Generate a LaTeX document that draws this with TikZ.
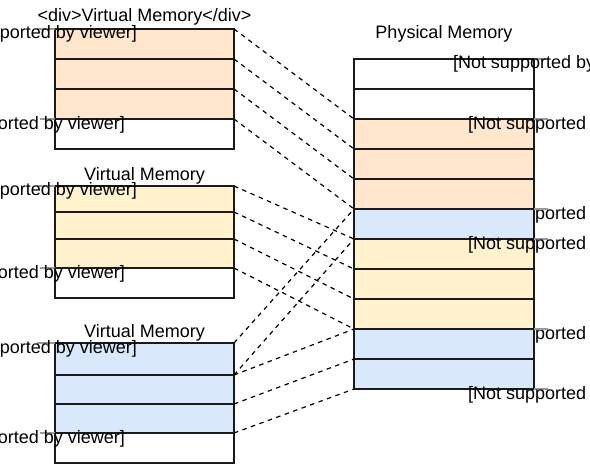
\documentclass[tikz,border=0pt]{standalone}
\usepackage{fontspec}
\setmainfont{Liberation Sans}
\definecolor{orf}{HTML}{FFE6CC}
\definecolor{yef}{HTML}{FFF2CC}
\definecolor{blf}{HTML}{DAE8FC}
\definecolor{edge}{HTML}{1A1A1A}
\definecolor{tick}{HTML}{999999}
\begin{document}
\begin{tikzpicture}[x=1pt,y=-1pt,
  cell/.style={draw=edge, line width=1.3pt, inner sep=0pt, outer sep=0pt, anchor=north west},
  vcell/.style={cell, minimum width=179pt},
  pcell/.style={cell, minimum width=180pt, minimum height=30pt},
  lab/.style={font=\fontsize{18}{20}\selectfont, inner sep=0pt, outer sep=0pt},
  map/.style={draw=black, line width=1.2pt, dash pattern=on 4.5pt off 4.5pt},
  tickline/.style={draw=tick, line width=1.2pt}
]
\useasboundingbox (0,0) rectangle (590,465);
\clip (0,0) rectangle (590,465);

% labels partly hidden behind the blue rows
\node[lab, anchor=base west] (pl3) at (468,220) {[Not supported by viewer]};
\node[lab, anchor=base west] (pl5) at (468,340) {[Not supported by viewer]};

% virtual memory 1
\node[vcell, fill=orf, minimum height=30pt] (v1r1) at (55,29) {};
\node[vcell, fill=orf, minimum height=30pt] (v1r2) at (55,59) {};
\node[vcell, fill=orf, minimum height=30pt] (v1r3) at (55,89) {};
\node[vcell, fill=white, minimum height=30pt] (v1r4) at (55,119) {};

% virtual memory 2
\node[vcell, fill=yef, minimum height=26pt] (v2r1) at (55,186) {};
\node[vcell, fill=yef, minimum height=27pt] (v2r2) at (55,212) {};
\node[vcell, fill=yef, minimum height=29pt] (v2r3) at (55,239) {};
\node[vcell, fill=white, minimum height=30pt] (v2r4) at (55,268) {};

% virtual memory 3
\node[vcell, fill=blf, minimum height=32pt] (v3r1) at (55,343) {};
\node[vcell, fill=blf, minimum height=29pt] (v3r2) at (55,375) {};
\node[vcell, fill=blf, minimum height=29pt] (v3r3) at (55,404) {};
\node[vcell, fill=white, minimum height=30pt] (v3r4) at (55,433) {};

% physical memory
\node[pcell, fill=white] (p1) at (354,59) {};
\node[pcell, fill=white] (p2) at (354,89) {};
\node[pcell, fill=orf] (p3) at (354,119) {};
\node[pcell, fill=orf] (p4) at (354,149) {};
\node[pcell, fill=orf] (p5) at (354,179) {};
\node[pcell, fill=blf] (p6) at (354,209) {};
\node[pcell, fill=yef] (p7) at (354,239) {};
\node[pcell, fill=yef] (p8) at (354,269) {};
\node[pcell, fill=yef] (p9) at (354,299) {};
\node[pcell, fill=blf] (p10) at (354,329) {};
\node[pcell, fill=blf] (p11) at (354,359) {};

% short grey ticks
\draw[tickline] (v1r1.north west) -- ++(-18,0);
\draw[tickline] (v1r4.north west) -- ++(-15,0);
\draw[tickline] (v2r1.north west) -- ++(-18,0);
\draw[tickline] (v2r4.north west) -- ++(-15,0);
\draw[tickline] (v3r1.north west) -- ++(-18,0);
\draw[tickline] (v3r4.north west) -- ++(-15,0);
\draw[tickline] (p1.north east) -- ++(14,0);
\draw[tickline] (p3.north east) -- ++(14,0);
\draw[tickline] (p6.north east) -- ++(14,0);
\draw[tickline] (p7.north east) -- ++(14,0);
\draw[tickline] (p10.north east) -- ++(14,0);
\draw[tickline] (p11.south east) -- ++(14,0);

% titles
\node[lab, anchor=base] (t1) at (144.5,22) {<div>Virtual Memory</div>};
\node[lab, anchor=base] (t2) at (144.5,181) {Virtual Memory};
\node[lab, anchor=base] (t3) at (144.5,338) {Virtual Memory};
\node[lab, anchor=base] (t4) at (444,39) {Physical Memory};

% labels
\node[lab, anchor=base east] (l1) at (137,39) {[Not supported by viewer]};
\node[lab, anchor=base east] (l2) at (125,130) {[Not supported by viewer]};
\node[lab, anchor=base east] (l3) at (137,196) {[Not supported by viewer]};
\node[lab, anchor=base east] (l4) at (125,279) {[Not supported by viewer]};
\node[lab, anchor=base east] (l5) at (137,354) {[Not supported by viewer]};
\node[lab, anchor=base east] (l6) at (125,444) {[Not supported by viewer]};
\node[lab, anchor=base west] (pl1) at (453,69) {[Not supported by viewer]};
\node[lab, anchor=base west] (pl2) at (468,130) {[Not supported by viewer]};
\node[lab, anchor=base west] (pl4) at (468,250) {[Not supported by viewer]};
\node[lab, anchor=base west] (pl6) at (468,400) {[Not supported by viewer]};

% mappings
\draw[map] (v1r1.north east) -- (p3.north west);
\draw[map] (v1r2.north east) -- (p4.north west);
\draw[map] (v1r3.north east) -- (p5.north west);
\draw[map] (v1r3.south east) -- (p5.south west);

\draw[map] (v2r1.north east) -- (p7.north west);
\draw[map] (v2r2.north east) -- (p8.north west);
\draw[map] (v2r3.north east) -- (p9.north west);
\draw[map] (v2r3.south east) -- (p9.south west);

\draw[map] (v3r1.north east) -- (p6.north west);
\draw[map] (v3r1.south east) -- (p6.south west);
\draw[map] (v3r2.north east) -- (p10.north west);
\draw[map] (v3r3.north east) -- (p11.north west);
\draw[map] (v3r3.south east) -- (p11.south west);
\end{tikzpicture}
\end{document}
